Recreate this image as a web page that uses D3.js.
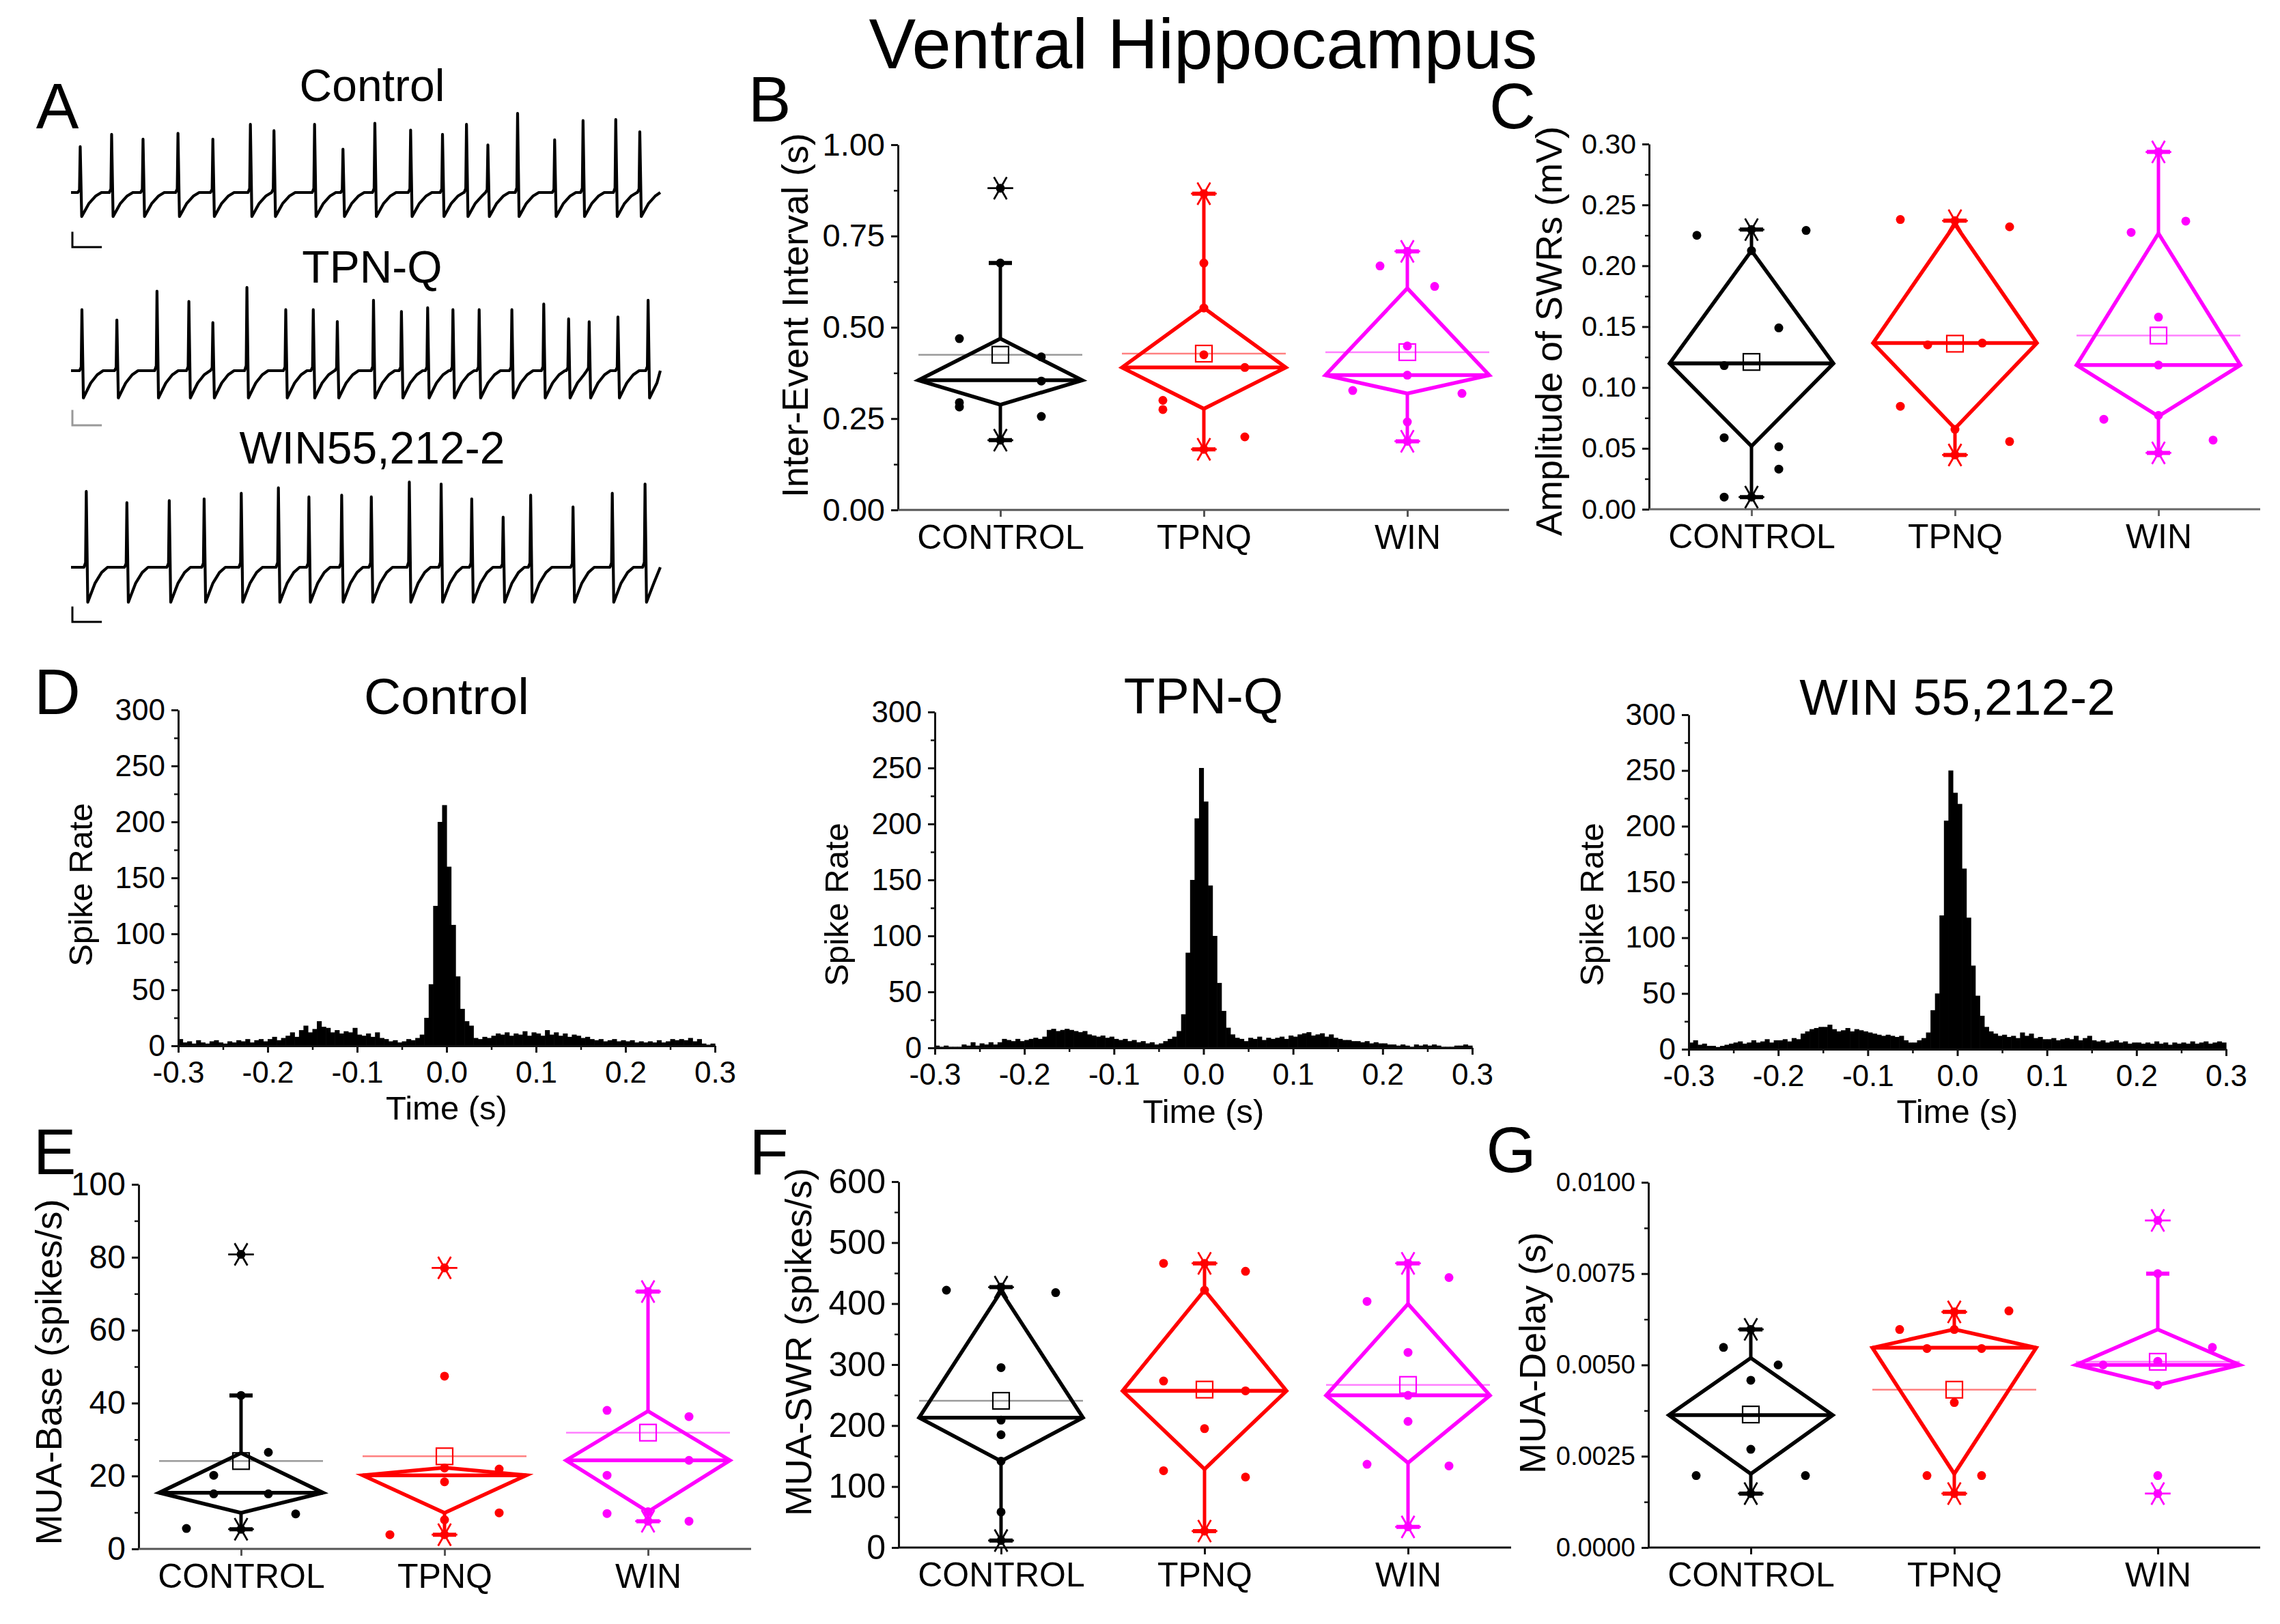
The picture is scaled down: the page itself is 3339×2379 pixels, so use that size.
<!DOCTYPE html>
<html>
<head>
<meta charset="utf-8">
<script src="https://cdn.jsdelivr.net/npm/d3@7"></script>
<style>
  body { margin: 0; background: #fff; }
</style>
</head>
<body>
<svg id="fig" width="3339" height="2379"></svg>
<script>
// ---- groups / colours
const groups = ["CONTROL", "TPNQ", "WIN"];
const groupColors = ["#000000", "#ff0000", "#ff00ff"];
const meanLineColors = ["#9a9a9a", "#ff8080", "#ff80ff"];

// ---- panel A: LFP traces (event time in s, peak amplitude, trough depth)
const traceNames = ["Control", "TPN-Q", "WIN55,212-2"];
const traceTimes = [
  [0.156, 0.689, 1.222, 1.815, 2.407, 3.044, 3.444, 4.133, 4.615, 5.156, 5.763, 6.304, 6.711, 7.074, 7.578, 8.207, 8.689, 9.244, 9.652],
  [0.185, 0.778, 1.459, 2.0, 2.407, 2.985, 3.644, 4.111, 4.519, 5.133, 5.607, 6.052, 6.481, 6.926, 7.481, 8.022, 8.444, 8.793, 9.281, 9.793],
  [0.259, 0.948, 1.667, 2.259, 2.889, 3.519, 4.037, 4.593, 5.096, 5.741, 6.281, 6.8, 7.333, 7.8, 8.519, 9.185, 9.741]
];
const traceAmps = [
  [0.21, 0.266, 0.244, 0.271, 0.244, 0.312, 0.283, 0.312, 0.198, 0.317, 0.286, 0.266, 0.312, 0.218, 0.362, 0.241, 0.329, 0.334, 0.278],
  [0.279, 0.232, 0.364, 0.317, 0.22, 0.381, 0.279, 0.279, 0.225, 0.322, 0.271, 0.288, 0.279, 0.279, 0.279, 0.305, 0.237, 0.224, 0.246, 0.322],
  [0.347, 0.296, 0.305, 0.313, 0.339, 0.364, 0.322, 0.33, 0.322, 0.39, 0.381, 0.313, 0.229, 0.33, 0.276, 0.339, 0.381]
];
const traceTroughs = [0.11, 0.125, 0.16];
// waveform template of one sharp-wave event (time offset, fraction of peak / trough)
const eventShapeT = [-0.04, -0.012, 0, 0.025, 0.07, 0.15, 0.26, 0.36];
const eventShapeV = [0, 0.06, 1, -1, -0.8, -0.45, -0.15, 0];
const scaleBarT = 0.5, scaleBarV = 0.07;

// ---- panel D: peri-event histograms, 5 ms bins from -0.3 s
const histTitles = ["Control", "TPN-Q", "WIN 55,212-2"];
const histBinStart = -0.3, histBinWidth = 0.005;
const histControl = [
  6,3,4,2,5,3,2,4,5,3, 2,4,3,5,4,6,3,5,6,4,
  6,8,5,7,9,12,8,14,18,12, 15,22,17,16,12,14,11,13,12,16,
  10,9,11,8,12,7,6,4,5,3, 4,6,5,7,10,25,55,125,200,215,
  160,108,62,33,22,18,7,6,8,7, 9,11,10,12,9,11,10,13,9,12,
  11,9,14,10,12,9,11,8,10,9, 7,8,6,5,6,4,5,6,4,5,
  4,5,3,4,3,4,3,5,3,4, 6,5,6,5,7,4,6,2,1,2
];
const histTPNQ = [
  2,1,2,1,1,1,3,2,5,2, 4,3,5,3,5,8,7,6,8,6,
  7,8,9,8,10,16,17,15,16,17, 16,15,14,15,12,11,10,11,9,10,
  8,7,8,6,7,5,6,4,5,3, 4,6,8,10,15,30,85,150,205,250,
  220,145,100,58,33,18,12,9,8,6, 9,8,10,7,9,8,9,10,8,11,
  10,12,13,14,11,12,13,10,12,9, 8,7,7,6,6,5,6,4,5,4,
  4,3,3,2,3,2,1,3,2,3, 2,3,2,1,1,1,2,2,3,2
];
const histWIN = [
  6,8,4,5,3,3,2,3,4,5, 6,7,5,6,8,6,7,9,6,8,
  8,9,7,10,9,14,16,18,19,20, 20,22,18,16,17,19,16,18,17,16,
  15,14,13,12,13,12,11,12,8,6, 6,8,10,15,35,50,120,205,250,230,
  220,162,118,75,48,30,20,16,14,12, 13,11,12,10,15,12,14,10,11,9,
  9,10,8,9,10,9,12,8,10,12, 8,7,8,6,7,8,6,7,5,6,
  6,5,6,5,7,5,6,4,6,5, 6,5,7,5,6,7,5,6,7,6
];
const histXTicks = [-0.3, -0.2, -0.1, 0, 0.1, 0.2, 0.3];
const histYTicks = [0, 50, 100, 150, 200, 250, 300];

// ---- box panels: summary stats + individual points [value, column]
const ieiTicks = [0, 0.25, 0.5, 0.75, 1.0];
const ieiBox = [
  {q1: 0.288, med: 0.355, q3: 0.469, wLo: 0.191, wHi: 0.676, min: 0.191, max: 0.881, mean: 0.425},
  {q1: 0.277, med: 0.390, q3: 0.553, wLo: 0.166, wHi: 0.866, min: 0.166, max: 0.866, mean: 0.428},
  {q1: 0.319, med: 0.369, q3: 0.607, wLo: 0.188, wHi: 0.708, min: 0.188, max: 0.708, mean: 0.432}
];
const ieiPoints = [
  [[0.881,0],[0.676,0],[0.469,-1.5],[0.419,1.5],[0.353,1.5],[0.294,-1.5],[0.282,-1.5],[0.256,1.5],[0.191,0]],
  [[0.866,0],[0.676,0],[0.553,0],[0.425,0],[0.39,1.5],[0.30,-1.5],[0.275,-1.5],[0.20,1.5],[0.166,0]],
  [[0.708,0],[0.668,-1],[0.612,1],[0.449,0],[0.369,0],[0.327,-2],[0.319,2],[0.241,0],[0.188,0]]
];

const ampTicks = [0, 0.05, 0.10, 0.15, 0.20, 0.25, 0.30];
const ampBox = [
  {q1: 0.0518, med: 0.1197, q3: 0.2124, wLo: 0.010, wHi: 0.2297, min: 0.010, max: 0.2297, mean: 0.121},
  {q1: 0.0664, med: 0.1365, q3: 0.234, wLo: 0.0446, wHi: 0.237, min: 0.0446, max: 0.237, mean: 0.136},
  {q1: 0.0764, med: 0.1184, q3: 0.2266, wLo: 0.0463, wHi: 0.2935, min: 0.0463, max: 0.2935, mean: 0.1427}
];
const ampPoints = [
  [[0.2297,0],[0.225,-2],[0.229,2],[0.2124,0],[0.149,1],[0.118,-1],[0.0588,-1],[0.0513,1],[0.033,1],[0.010,-1],[0.010,0]],
  [[0.238,-2],[0.232,2],[0.237,0],[0.135,-1],[0.1365,1],[0.0846,-2],[0.0656,0],[0.0556,2],[0.0446,0]],
  [[0.2935,0],[0.2274,-1],[0.2367,1],[0.1578,0],[0.1184,0],[0.0739,-2],[0.0771,0],[0.0568,2],[0.0463,0]]
];

const baseTicks = [0, 20, 40, 60, 80, 100];
const baseBox = [
  {q1: 9.9, med: 15.4, q3: 26.3, wLo: 5.4, wHi: 42.1, min: 5.4, max: 80.8, mean: 24.1},
  {q1: 9.9, med: 20.2, q3: 22.3, wLo: 3.9, wHi: 22.3, min: 3.9, max: 77.1, mean: 25.4},
  {q1: 10.2, med: 24.3, q3: 37.8, wLo: 7.6, wHi: 70.6, min: 7.6, max: 70.6, mean: 31.9}
];
const basePoints = [
  [[80.8,0],[42.1,0],[26.5,1],[20.2,-1],[15.1,-1],[15.1,1],[9.6,2],[5.6,-2],[5.4,0]],
  [[77.1,0],[47.4,0],[22.2,0],[21.9,2],[18.4,0],[9.9,2],[8.0,0],[3.9,-2],[3.9,0]],
  [[70.6,0],[38,-1.5],[36.3,1.5],[24.3,1.5],[20.2,-1.5],[10.2,0],[9.7,-1.5],[7.6,1.5],[7.6,0]]
];

const swrTicks = [0, 100, 200, 300, 400, 500, 600];
const swrBox = [
  {q1: 141.7, med: 213, q3: 420, wLo: 11.5, wHi: 427, min: 11.5, max: 427, mean: 240.6},
  {q1: 128.6, med: 257, q3: 422, wLo: 27, wHi: 466, min: 27, max: 466, mean: 259},
  {q1: 139, med: 249.5, q3: 399.5, wLo: 33.9, wHi: 466, min: 33.9, max: 466, mean: 266.7}
];
const swrPoints = [
  [[427,0],[422,-2],[418,2],[295,0],[209,0],[185,0],[141.7,0],[58.3,0],[11.5,0]],
  [[466,0],[466,-1.5],[453,1.5],[422,0],[273,-1.5],[257,1.5],[195,0],[126,-1.5],[115.6,1.5],[27,0]],
  [[466,0],[403.6,-1.5],[442.7,1.5],[320,0],[249.5,0],[206.8,0],[136.5,-1.5],[133.9,1.5],[33.9,0]]
];

const delayTicks = [0, 0.0025, 0.005, 0.0075, 0.01];
const delayBox = [
  {q1: 0.002017, med: 0.003626, q3: 0.005191, wLo: 0.001478, wHi: 0.005974, min: 0.001478, max: 0.005974, mean: 0.003643},
  {q1: 0.002017, med: 0.00547, q3: 0.005974, wLo: 0.001478, wHi: 0.006452, min: 0.001478, max: 0.006452, mean: 0.004322},
  {q1: 0.004452, med: 0.0050, q3: 0.005974, wLo: 0.004452, wHi: 0.0075, min: 0.001478, max: 0.008957, mean: 0.005087}
];
const delayPoints = [
  [[0.005974,0],[0.00548,-1],[0.0050,1],[0.00458,0],[0.00269,0],[0.00197,-2],[0.00197,2],[0.001478,0]],
  [[0.006452,0],[0.00648,2],[0.00597,-2],[0.00597,0],[0.00545,-1],[0.00545,1],[0.00397,0],[0.00197,-1],[0.00197,1],[0.001478,0]],
  [[0.008957,0],[0.0075,0],[0.00548,2],[0.0051,0],[0.0050,-2],[0.00445,0],[0.00197,0],[0.001478,0]]
];

// ---------------------------------------------------------------
const svg = d3.select("#fig");
const font = '"Liberation Sans", Arial, Helvetica, sans-serif';
svg.append("rect").attr("width", 3339).attr("height", 2379).attr("fill", "#fff");

function label(txt, x, y, size, rotate) {
  const t = svg.append("text")
    .attr("x", x).attr("y", y)
    .attr("font-size", size)
    .attr("font-family", font)
    .attr("text-anchor", "middle")
    .attr("fill", "#000")
    .text(txt);
  if (rotate) t.attr("transform", `rotate(-90,${x},${y})`);
  return t;
}

function styleAxis(g, fs, color) {
  g.select(".domain").attr("stroke", color).attr("stroke-width", 3);
  g.selectAll(".tick line").attr("stroke", color).attr("stroke-width", 3);
  g.selectAll(".tick text").attr("font-size", fs).attr("font-family", font).attr("fill", "#000");
}

function minorTicks(ticks) {
  return d3.pairs(ticks).map(([a, b]) => (a + b) / 2);
}

function yAxis(y, x0, ticks, fmt, fs) {
  const g = svg.append("g").attr("transform", `translate(${x0},0)`);
  g.call(d3.axisLeft(y).tickValues(ticks).tickFormat(fmt).tickSize(10).tickSizeOuter(0).tickPadding(9));
  styleAxis(g, fs, "#111");
  const m = svg.append("g").attr("transform", `translate(${x0},0)`);
  m.call(d3.axisLeft(y).tickValues(minorTicks(ticks)).tickFormat("").tickSize(6).tickSizeOuter(0));
  m.select(".domain").remove();
  m.selectAll(".tick line").attr("stroke", "#111").attr("stroke-width", 2.5);
}

// ---- title and panel letters
label("Ventral Hippocampus", 1762, 100, 103);
[["A", 84, 188], ["B", 1127, 178], ["C", 2215, 188], ["D", 84, 1046],
 ["E", 80, 1720], ["F", 1126, 1720], ["G", 2213, 1717]].forEach(d => label(d[0], d[1], d[2], 94));

// ---- panel A traces
const traceX = d3.scaleLinear().domain([0, 10]).range([104, 967]);
const traceBase = [282, 543, 831];
const traceLabelY = [148, 414, 679];
const barColors = ["#000", "#999", "#000"];

function tracePoints(times, amps, trough) {
  const pts = [[0, 0]];
  times.forEach((t, k) => {
    const next = k < times.length - 1 ? times[k + 1] : 11;
    eventShapeT.forEach((dt, j) => {
      const tt = t + dt;
      if (tt < 0 || tt > 10) return;
      if (dt > 0 && tt >= next - 0.045) return;
      const f = eventShapeV[j];
      pts.push([tt, f >= 0 ? f * amps[k] : f * trough]);
    });
  });
  pts.push([10, 0]);
  return pts;
}

traceNames.forEach((name, i) => {
  const base = traceBase[i];
  const y = d3.scaleLinear().domain([0, 1]).range([base, base - 320]);
  label(name, 545, traceLabelY[i], 66);
  svg.append("path")
    .datum(tracePoints(traceTimes[i], traceAmps[i], traceTroughs[i]))
    .attr("d", d3.line().x(d => traceX(d[0])).y(d => y(d[1])))
    .attr("fill", "none")
    .attr("stroke", "#000")
    .attr("stroke-width", 4.2)
    .attr("stroke-linejoin", "round");
  // scale bar
  const bx = traceX(0) + 2, by = base + 80;
  svg.append("path")
    .attr("d", d3.line()([[bx, by - (y(0) - y(scaleBarV))], [bx, by], [bx + traceX(scaleBarT) - traceX(0), by]]))
    .attr("fill", "none")
    .attr("stroke", barColors[i])
    .attr("stroke-width", 3);
});

// ---- panel D histograms
const histData = [histControl, histTPNQ, histWIN];
const histLayout = [
  {x0: 261, x1: 1047, yTop: 1040, yBot: 1532, titleY: 1046, yLabX: 135, yLabY: 1296, xLabY: 1640},
  {x0: 1369, x1: 2156, yTop: 1043, yBot: 1535, titleY: 1045, yLabX: 1242, yLabY: 1325, xLabY: 1645},
  {x0: 2473, x1: 3260, yTop: 1047, yBot: 1537, titleY: 1047, yLabX: 2348, yLabY: 1325, xLabY: 1645}
];
const fmtTime = v => d3.format(".1f")(v).replace("\u2212", "-");

histData.forEach((vals, i) => {
  const L = histLayout[i];
  const x = d3.scaleLinear().domain([-0.3, 0.3]).range([L.x0, L.x1]);
  const y = d3.scaleLinear().domain([0, 300]).range([L.yBot, L.yTop]);
  svg.append("g").selectAll("rect")
    .data(vals)
    .enter().append("rect")
    .attr("x", (d, k) => x(histBinStart + k * histBinWidth))
    .attr("width", x(histBinWidth) - x(0) + 0.6)
    .attr("y", d => y(d))
    .attr("height", d => y(0) - y(d))
    .attr("fill", "#000");
  yAxis(y, L.x0, histYTicks, d3.format("d"), 44);
  const gx = svg.append("g").attr("transform", `translate(0,${L.yBot})`);
  gx.call(d3.axisBottom(x).tickValues(histXTicks).tickFormat(fmtTime).tickSize(10).tickSizeOuter(0).tickPadding(13));
  styleAxis(gx, 44, "#111");
  const mx = svg.append("g").attr("transform", `translate(0,${L.yBot})`);
  mx.call(d3.axisBottom(x).tickValues(minorTicks(histXTicks)).tickFormat("").tickSize(6).tickSizeOuter(0));
  mx.select(".domain").remove();
  mx.selectAll(".tick line").attr("stroke", "#111").attr("stroke-width", 2.5);
  label(histTitles[i], x(0), L.titleY, 75);
  label("Spike Rate", L.yLabX, L.yLabY, 49, true);
  label("Time (s)", (L.x0 + L.x1) / 2, L.xLabY, 49);
});

// ---- box panels
const asterisk = d3.symbol().type(d3.symbolAsterisk).size(1000)();

function drawBoxPanel(cfg, box, points) {
  const y = d3.scaleLinear().domain([cfg.ticks[0], cfg.ticks[cfg.ticks.length - 1]]).range([cfg.yBot, cfg.yTop]);
  const x = d3.scalePoint().domain(groups).range([cfg.x0 + 150, cfg.x0 + 746]);
  const hw = 120;

  yAxis(y, cfg.x0, cfg.ticks, cfg.fmt, cfg.tickFs);
  svg.append("line")
    .attr("x1", cfg.x0).attr("x2", cfg.x1)
    .attr("y1", cfg.yBot).attr("y2", cfg.yBot)
    .attr("stroke", cfg.xColor).attr("stroke-width", 3);
  const gx = svg.append("g").attr("transform", `translate(0,${cfg.yBot})`);
  gx.call(d3.axisBottom(x).tickSize(10).tickSizeOuter(0).tickPadding(11));
  gx.select(".domain").remove();
  styleAxis(gx, 50, cfg.xColor);
  label(cfg.title, cfg.titleX, cfg.titleY, 54, true);

  const g = svg.append("g");
  groups.forEach((name, i) => {
    const s = box[i], cx = x(name), col = groupColors[i];
    g.append("line")
      .attr("x1", cx - hw).attr("x2", cx + hw)
      .attr("y1", y(s.mean)).attr("y2", y(s.mean))
      .attr("stroke", meanLineColors[i]).attr("stroke-width", 2.5);
    g.append("path")
      .attr("d", d3.line()([[cx - hw, y(s.med)], [cx, y(s.q3)], [cx + hw, y(s.med)], [cx, y(s.q1)]]) + "Z")
      .attr("fill", "none").attr("stroke", col).attr("stroke-width", 5.5)
      .attr("stroke-linejoin", "miter");
    g.append("line")
      .attr("x1", cx - hw).attr("x2", cx + hw)
      .attr("y1", y(s.med)).attr("y2", y(s.med))
      .attr("stroke", col).attr("stroke-width", 5.5);
    [[s.q3, s.wHi], [s.q1, s.wLo]].forEach(([from, to]) => {
      if (Math.abs(y(from) - y(to)) < 1) return;
      g.append("line")
        .attr("x1", cx).attr("x2", cx)
        .attr("y1", y(from)).attr("y2", y(to))
        .attr("stroke", col).attr("stroke-width", 5);
      g.append("line")
        .attr("x1", cx - 17).attr("x2", cx + 17)
        .attr("y1", y(to)).attr("y2", y(to))
        .attr("stroke", col).attr("stroke-width", 6);
    });
    g.selectAll(null)
      .data(points[i])
      .enter().append("circle")
      .attr("cx", d => cx + d[1] * 40)
      .attr("cy", d => y(d[0]))
      .attr("r", 6.5)
      .attr("fill", col);
    g.append("rect")
      .attr("x", cx - 12).attr("y", y(s.mean) - 12)
      .attr("width", 24).attr("height", 24)
      .attr("fill", "none").attr("stroke", col).attr("stroke-width", 2.2);
    [s.min, s.max].forEach(v => {
      g.append("path")
        .attr("d", asterisk)
        .attr("transform", `translate(${cx},${y(v)}) rotate(90)`)
        .attr("fill", "none").attr("stroke", col).attr("stroke-width", 2.8);
    });
  });
}

drawBoxPanel({x0: 1315, x1: 2210, yTop: 212, yBot: 747, ticks: ieiTicks, fmt: d3.format(".2f"), tickFs: 47,
  title: "Inter-Event Interval (s)", titleX: 1183, titleY: 462, xColor: "#555"}, ieiBox, ieiPoints);
drawBoxPanel({x0: 2415, x1: 3310, yTop: 211, yBot: 746, ticks: ampTicks, fmt: d3.format(".2f"), tickFs: 41,
  title: "Amplitude of SWRs (mV)", titleX: 2287, titleY: 485, xColor: "#666"}, ampBox, ampPoints);
drawBoxPanel({x0: 203, x1: 1100, yTop: 1735, yBot: 2269, ticks: baseTicks, fmt: d3.format("d"), tickFs: 48,
  title: "MUA-Base (spikes/s)", titleX: 90, titleY: 2010, xColor: "#555"}, baseBox, basePoints);
drawBoxPanel({x0: 1316, x1: 2213, yTop: 1731, yBot: 2267, ticks: swrTicks, fmt: d3.format("d"), tickFs: 50,
  title: "MUA-SWR (spikes/s)", titleX: 1188, titleY: 1966, xColor: "#111"}, swrBox, swrPoints);
drawBoxPanel({x0: 2414, x1: 3310, yTop: 1732, yBot: 2267, ticks: delayTicks, fmt: d3.format(".4f"), tickFs: 38,
  title: "MUA-Delay (s)", titleX: 2263, titleY: 1982, xColor: "#111"}, delayBox, delayPoints);
</script>
</body>
</html>
